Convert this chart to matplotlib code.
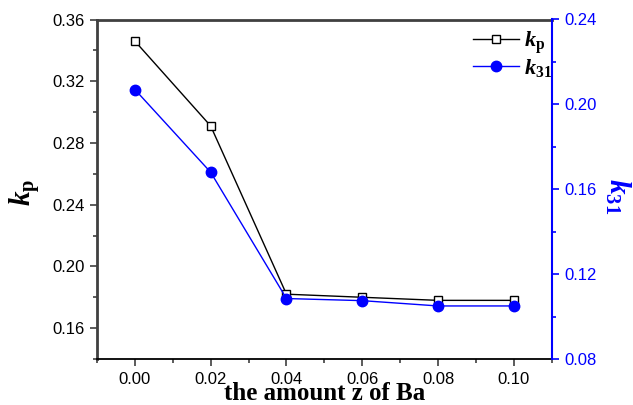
import matplotlib
matplotlib.use("Agg")
import matplotlib.pyplot as plt
from matplotlib.ticker import MultipleLocator, FormatStrFormatter

plt.rcParams['mathtext.fontset'] = 'custom'
plt.rcParams['mathtext.rm'] = 'Liberation Serif'
plt.rcParams['mathtext.it'] = 'Liberation Serif:italic'
plt.rcParams['mathtext.bf'] = 'Liberation Serif:bold'
plt.rcParams['mathtext.bfit'] = 'Liberation Serif:bold:italic'

z = [0.00, 0.02, 0.04, 0.06, 0.08, 0.10]
kp = [0.346, 0.291, 0.182, 0.180, 0.178, 0.178]
k31 = [0.207, 0.168, 0.1085, 0.1075, 0.105, 0.105]

fig = plt.figure(figsize=(6.33, 4.05), dpi=100)
ax = fig.add_axes([97/633, 1-359/405, (551.7-97)/633, (359-19.5)/405])
ax2 = ax.twinx()

dark = '#404040'
blue = '#0000ff'
l1, = ax.plot(z, kp, color='black', lw=1, marker='s', ms=6, mfc='white', mec='black', mew=1, label=r'$\boldsymbol{k}_{\mathbf{p}}$')
l2, = ax2.plot(z, k31, color=blue, lw=1, marker='o', ms=7.5, mfc=blue, mec=blue, label=r'$\boldsymbol{k}_{\mathbf{31}}$')

ax.set_xlim(-0.01, 0.11)
ax.set_ylim(0.14, 0.36)
ax2.set_ylim(0.08, 0.24)

ax.xaxis.set_major_locator(MultipleLocator(0.02))
ax.xaxis.set_minor_locator(MultipleLocator(0.01))
ax.xaxis.set_major_formatter(FormatStrFormatter('%.2f'))
ax.yaxis.set_major_locator(MultipleLocator(0.04))
ax.yaxis.set_minor_locator(MultipleLocator(0.02))
ax.yaxis.set_major_formatter(FormatStrFormatter('%.2f'))
ax2.yaxis.set_major_locator(MultipleLocator(0.04))
ax2.yaxis.set_minor_locator(MultipleLocator(0.02))
ax2.yaxis.set_major_formatter(FormatStrFormatter('%.2f'))

tfont = 'Liberation Sans'
ax.tick_params(axis='both', which='major', direction='out', length=5, width=1.2, labelsize=12, color=dark, pad=4)
ax.tick_params(axis='both', which='minor', direction='out', length=3, width=1.2, color=dark)
ax2.tick_params(axis='y', which='major', direction='out', length=5, width=1.2, labelsize=12, colors=blue, pad=4)
ax2.tick_params(axis='y', which='minor', direction='out', length=3, width=1.2, colors=blue)
for lab in ax.get_xticklabels() + ax.get_yticklabels() + ax2.get_yticklabels():
    lab.set_fontfamily(tfont)

for s in ('left', 'top', 'bottom'):
    ax2.spines[s].set_visible(False)
ax.spines['left'].set_color(dark)
ax.spines['left'].set_linewidth(2)
ax.spines['top'].set_color(dark)
ax.spines['top'].set_linewidth(2)
ax.spines['bottom'].set_color('black')
ax.spines['bottom'].set_linewidth(1.3)
ax.spines['right'].set_visible(False)
ax2.spines['right'].set_color(blue)
ax2.spines['right'].set_linewidth(1.5)

ax.set_xlabel('the amount z of Ba', fontfamily='Liberation Serif', fontweight='bold', fontsize=18)
ax.xaxis.set_label_coords(0.5, -0.12)
ax.xaxis.label.set_va('baseline')
ax.set_ylabel(r'$\boldsymbol{k}_{\mathbf{p}}$', fontsize=21)
ax.yaxis.set_label_coords(-0.158, 0.49)
ax.yaxis.label.set_va('center')
ax2.set_ylabel(r'$\boldsymbol{k}_{\mathbf{31}}$', fontsize=21, color=blue, rotation=-90)
ax2.yaxis.set_label_coords(1.145, 0.48)
ax2.yaxis.label.set_va('center')

leg = ax.legend(handles=[l1, l2], loc='upper right', bbox_to_anchor=(1.0, 0.972), frameon=False,
                fontsize=16, handlelength=2.1, handletextpad=0.2, labelspacing=0.05,
                borderaxespad=0.0, borderpad=0.0)

fig.savefig('out.png', dpi=100)
